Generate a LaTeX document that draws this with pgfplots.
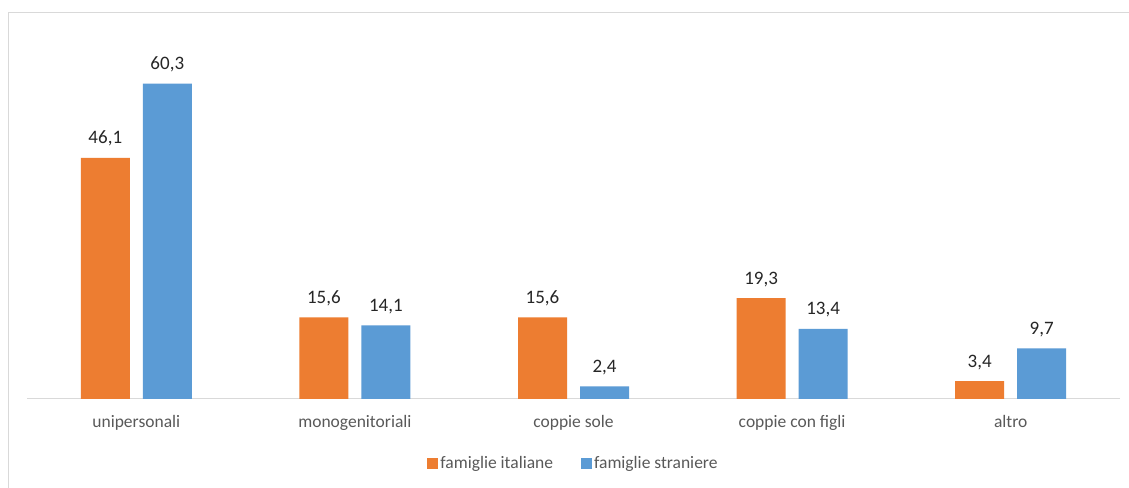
\documentclass[border=0pt]{standalone}
\usepackage{pgfplots}
\pgfplotsset{compat=1.18}
\usepackage{fontspec}
\setmainfont{Carlito}
\definecolor{cOr}{HTML}{ED7D31}
\definecolor{cBl}{HTML}{5B9BD5}
\definecolor{cGrid}{HTML}{D9D9D9}
\definecolor{cTxt}{HTML}{595959}
\definecolor{cLab}{HTML}{262626}
\begin{document}
\begin{tikzpicture}[x=1pt,y=1pt]
\useasboundingbox (0,0) rectangle (1129,487);
\fill[white] (0,0) rectangle (1129,487);
\draw[cGrid, line width=1pt] (8.5,-10) -- (8.5,474.5) -- (1140,474.5);
\begin{axis}[
  at={(136.3pt,88pt)}, anchor=origin,
  scale only axis, width=1093pt, height=366pt,
  xmin=-0.5, xmax=4.5, ymin=0, ymax=70,
  ybar=13pt, bar width=49pt,
  axis x line*=bottom, axis y line=none,
  x axis line style={draw=cGrid, line width=1pt},
  major tick length=0pt,
  xtick={0,1,2,3,4},
  xticklabels={unipersonali, monogenitoriali, coppie sole, coppie con figli, altro},
  xticklabel style={font=\fontsize{17.5}{20}\selectfont, text=cTxt, anchor=base, yshift=-29pt},
  /pgf/number format/assume math mode=true,
  nodes near coords={\pgfmathprintnumber[fixed,fixed zerofill,precision=1,use comma]{\pgfplotspointmeta}},
  every node near coord/.append style={font=\fontsize{19}{22}\selectfont, text=cLab, anchor=base, yshift=14pt, inner sep=0pt},
  legend style={at={(0.5,-0.175)}, anchor=center, draw=none, fill=none,
    legend columns=2, font=\fontsize{17.5}{20}\selectfont, text=cTxt,
    /tikz/every even column/.append style={column sep=26pt},
    inner sep=0pt},
  legend image code/.code={\fill[#1] (0pt,-5.5pt) rectangle (11pt,5.5pt);},
  legend cell align=left,
]
\addplot[fill=cOr, draw=none] coordinates {(0,46.1) (1,15.6) (2,15.6) (3,19.3) (4,3.4)};
\addplot[fill=cBl, draw=none] coordinates {(0,60.3) (1,14.1) (2,2.4) (3,13.4) (4,9.7)};
\legend{famiglie italiane, famiglie straniere}
\end{axis}
\end{tikzpicture}
\end{document}
